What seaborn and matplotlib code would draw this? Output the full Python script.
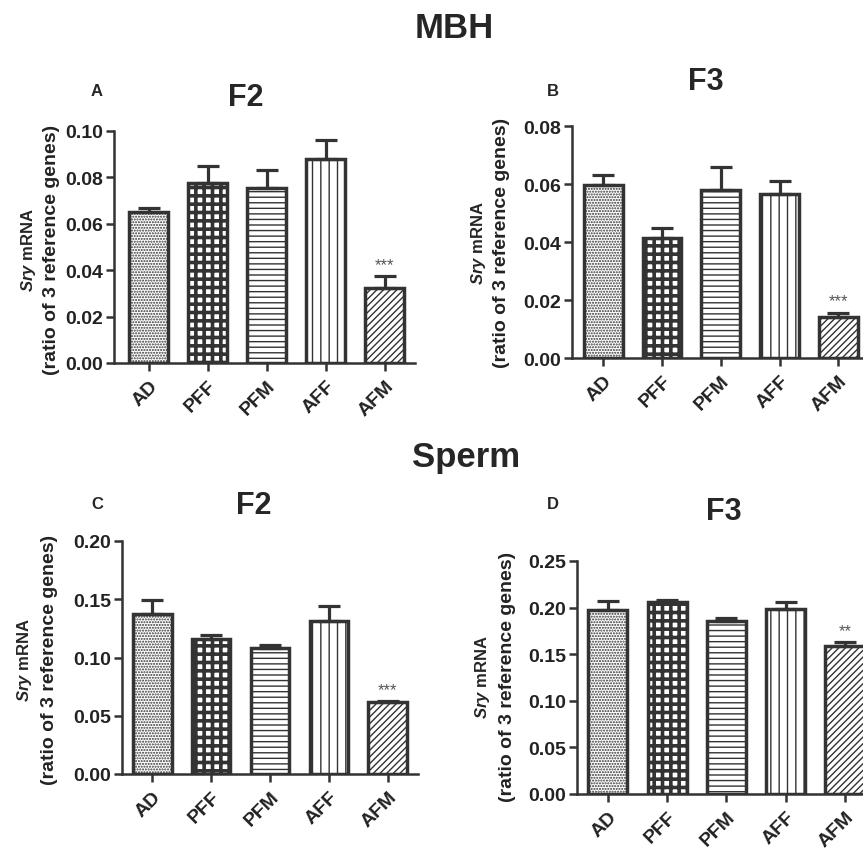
import numpy as np
import matplotlib
matplotlib.use("Agg")
import matplotlib.pyplot as plt
import seaborn as sns

# ── data ──────────────────────────────────────────────────────────────────────
GROUPS = ["AD", "PFF", "PFM", "AFF", "AFM"]

mbh_f2_mean = [0.065, 0.0775, 0.0755, 0.088, 0.0325]
mbh_f2_sem = [0.002, 0.0075, 0.0075, 0.008, 0.005]
mbh_f3_mean = [0.0595, 0.0415, 0.058, 0.0565, 0.0143]
mbh_f3_sem = [0.0035, 0.0035, 0.008, 0.0047, 0.0013]
sperm_f2_mean = [0.137, 0.116, 0.108, 0.131, 0.062]
sperm_f2_sem = [0.012, 0.003, 0.003, 0.013, 0.0005]
sperm_f3_mean = [0.197, 0.206, 0.186, 0.199, 0.159]
sperm_f3_sem = [0.010, 0.002, 0.003, 0.007, 0.004]

STARS = {"A": "***", "B": "***", "C": "***", "D": "**"}

# (hatch, hatch line width) per group
HATCHES = [("......", 1.0), ("++", 2.6), ("---", 1.0), ("||", 1.0), ("/////", 1.0)]
EDGE = "#333333"
W, H = 863, 853
BOLD = ["Liberation Sans", "DejaVu Sans"]

sns.set_style("ticks")
plt.rcParams["font.family"] = BOLD
plt.rcParams["hatch.linewidth"] = 1.0
plt.rcParams["mathtext.fontset"] = "custom"
plt.rcParams["mathtext.it"] = "Liberation Sans:bold:italic"


def px(x, y):
    return x / W, 1 - y / H


def panel(fig, box, means, sems, ymax, yticks, xlim, letter, title,
          title_xy, letter_xy, lab_x, lab_y):
    left, top, right, bottom = box
    ax = fig.add_axes([left / W, 1 - bottom / H, (right - left) / W, (bottom - top) / H])
    sns.barplot(x=GROUPS, y=means, ax=ax, color="white", edgecolor=EDGE,
                linewidth=2.5, width=0.66, errorbar=None)
    for p, (h, lw) in zip(ax.patches, HATCHES):
        p.set_hatch(h)
        if hasattr(p, "set_hatch_linewidth"):
            p.set_hatch_linewidth(lw)
        if hasattr(p, "set_hatchcolor"):
            p.set_hatchcolor("#3a3a3a")
    x = np.arange(len(GROUPS))
    ax.errorbar(x, means, yerr=[np.zeros(len(x)), sems], fmt="none",
                ecolor=EDGE, elinewidth=2.3, capsize=8, capthick=2.3, zorder=1)
    tops = np.array(means) + np.array(sems)
    ax.annotate(STARS[letter], (x[-1], tops[-1]), xytext=(0, 3),
                textcoords="offset points", ha="center", va="bottom",
                fontsize=12, color="#555555")
    ax.set_ylim(0, ymax)
    ax.set_xlim(*xlim)
    ax.set_yticks(yticks)
    ax.set_yticklabels([f"{v:.2f}" for v in yticks], fontsize=14, fontweight="bold")
    ax.set_xticks(x)
    ax.set_xticklabels(GROUPS, rotation=45, ha="right", rotation_mode="anchor",
                       fontsize=14, fontweight="bold")
    ax.set_xlabel("")
    ax.set_ylabel("")
    sns.despine(ax=ax)
    for s in ["left", "bottom"]:
        ax.spines[s].set_linewidth(1.8)
        ax.spines[s].set_color(EDGE)
    ax.tick_params(axis="both", width=1.8, length=6, color=EDGE, labelcolor="#222222")
    ax.tick_params(axis="x", pad=4)
    ax.tick_params(axis="y", pad=2)

    fig.text(*px(*title_xy), title, ha="center", va="center",
             fontsize=22, fontweight="bold")
    fig.text(*px(*letter_xy), letter, ha="center", va="center",
             fontsize=12, fontweight="bold")
    fig.text(*px(lab_x[0], lab_y), r"$\it{Sry}$ mRNA", rotation=90,
             ha="center", va="center", fontsize=12, fontweight="bold")
    fig.text(*px(lab_x[1], lab_y), "(ratio of 3 reference genes)", rotation=90,
             ha="center", va="center", fontsize=14, fontweight="bold", color="#222222")
    return ax


fig = plt.figure(figsize=(W / 100, H / 100), dpi=100)

fig.text(*px(454, 28), "MBH", ha="center", va="center", fontsize=25, fontweight="bold")
fig.text(*px(466, 458), "Sperm", ha="center", va="center", fontsize=25, fontweight="bold")

panel(fig, (114, 132, 415, 364), mbh_f2_mean, mbh_f2_sem, 0.10,
      [0, 0.02, 0.04, 0.06, 0.08, 0.10], (-0.59, 4.51),
      "A", "F2", (246, 98), (97, 92), (28, 51), 250)
panel(fig, (572, 127, 879, 359), mbh_f3_mean, mbh_f3_sem, 0.08,
      [0, 0.02, 0.04, 0.06, 0.08], (-0.53, 4.69),
      "B", "F3", (706, 82), (553, 92), (478, 502), 243)
panel(fig, (122, 542, 418, 775), sperm_f2_mean, sperm_f2_sem, 0.20,
      [0, 0.05, 0.10, 0.15, 0.20], (-0.51, 4.51),
      "C", "F2", (254, 506), (97, 505), (25, 50), 660)
panel(fig, (577, 562, 880, 795), sperm_f3_mean, sperm_f3_sem, 0.25,
      [0, 0.05, 0.10, 0.15, 0.20, 0.25], (-0.52, 4.59),
      "D", "F3", (724, 512), (553, 505), (483, 508), 677)

fig.savefig("out.png", dpi=100)
